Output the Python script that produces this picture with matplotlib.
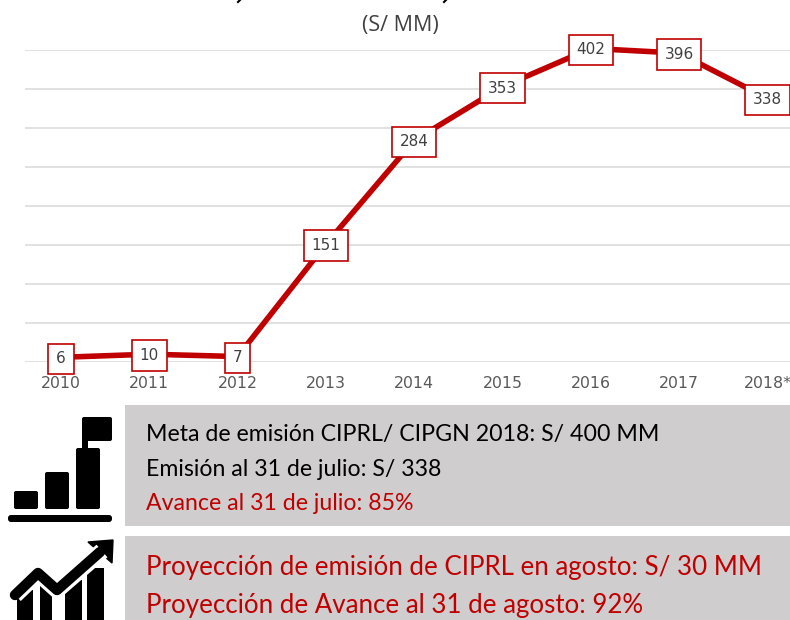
import matplotlib
matplotlib.use('Agg')
import matplotlib.pyplot as plt
from matplotlib.patches import FancyBboxPatch, Rectangle, Polygon

years = ['2010', '2011', '2012', '2013', '2014', '2015', '2016', '2017', '2018*']
emision = [6, 10, 7, 151, 284, 353, 402, 396, 338]
y_ticks = [0, 50, 100, 150, 200, 250, 300, 350, 400]

linea1 = 'Meta de emisión CIPRL/ CIPGN 2018: S/ 400 MM'
linea2 = 'Emisión al 31 de julio: S/ 338'
linea3 = 'Avance al 31 de julio: 85%'
linea4 = 'Proyección de emisión de CIPRL en agosto: S/ 30 MM'
linea5 = 'Proyección de Avance al 31 de agosto: 92%'

RED = '#C00000'
GREY = '#CFCDCE'
W, H = 790, 620

plt.rcParams['font.family'] = ['DejaVu Sans']

fig = plt.figure(figsize=(W / 100, H / 100), dpi=100)

# overlay in pixel coordinates for boxes, icons and text
bg = fig.add_axes([0, 0, 1, 1])
bg.set_xlim(0, W)
bg.set_ylim(H, 0)
bg.axis('off')

# chart: y=0 at 362px, y=400 at 50px, 2010 at x=61px
left, right = 25, 790
ax = fig.add_axes([left / W, (H - 362) / H, (right - left) / W, 312 / H])
step = 88.3
ax.set_xlim((left - 61) / step, (right - 61) / step)
ax.set_ylim(0, 400)
ax.set_yticks(y_ticks)
ax.set_xticks(range(len(years)))
ax.set_xticklabels(years, fontsize=11.3, color='#595959')
ax.tick_params(axis='both', length=0, labelleft=False, pad=10)
ax.grid(axis='y', color='#D9D9D9', lw=1.1)
ax.set_axisbelow(True)
for s in ax.spines.values():
    s.set_visible(False)
ax.patch.set_alpha(0)

ax.plot(range(len(years)), emision, color=RED, lw=4, solid_capstyle='round', clip_on=False)
for i, v in enumerate(emision):
    ax.annotate(str(v), (i, v), xytext=(0, -1), textcoords='offset points', ha='center', va='center',
                fontsize=11, color='#404040', annotation_clip=False,
                bbox=dict(boxstyle='square,pad=0.5', fc='white', ec=RED, lw=1.2))

bg.text(400, 25, '(S/ MM)', ha='center', va='center', fontsize=15.5, color='#404040', family='Open Sans')
# bottoms of the cut off title
bg.plot([238, 240], [2, 0], color='black', lw=1.5)
bg.plot([444, 446], [2, 0], color='black', lw=1.5)

# grey boxes
bg.add_patch(Rectangle((125, 405), 665, 121, fc=GREY, ec='none'))
bg.add_patch(Rectangle((125, 536), 665, 84, fc=GREY, ec='none'))

bg.text(146, 435, linea1, va='center', fontsize=16.65, color='black', family='Lato')
bg.text(146, 469, linea2, va='center', fontsize=16.65, color='black', family='Lato')
bg.text(146, 504, linea3, va='center', fontsize=16.65, color=RED, family='Lato')
bg.text(146, 568, linea4, va='center', fontsize=18.65, color=RED, family='Lato')
bg.text(146, 606, linea5, va='center', fontsize=18.65, color=RED, family='Lato')


def rbox(x0, y0, x1, y1, r=2):
    bg.add_patch(FancyBboxPatch((x0 + r, y0 + r), x1 - x0 - 2 * r, y1 - y0 - 2 * r,
                                boxstyle='round,pad=%s' % r, fc='black', ec='none'))


# bars + flag icon
rbox(14, 491, 38, 509)
rbox(45, 472, 69, 509)
rbox(76, 448, 100, 509)
rbox(82, 417, 112, 441)
bg.add_patch(Rectangle((82, 438), 6, 12, fc='black', ec='none'))
rbox(8, 515, 112, 522, r=3)

# growth arrow icon
for x0, x1, top in [(17, 33, 590), (40, 52, 583), (65, 82, 580), (87, 104, 568)]:
    bg.add_patch(Rectangle((x0, top), x1 - x0, H - top, fc='black', ec='none'))
bg.plot([15, 38, 57, 102], [595, 573, 590, 551], color='white', lw=12, solid_capstyle='butt')
bg.plot([15, 38, 57, 100], [595, 573, 590, 552], color='black', lw=7.5, solid_capstyle='round',
        solid_joinstyle='round')
bg.add_patch(Polygon([[88, 542], [113, 540], [112, 563]], fc='black', ec='black', lw=1))

fig.savefig('out.png', dpi=100)
